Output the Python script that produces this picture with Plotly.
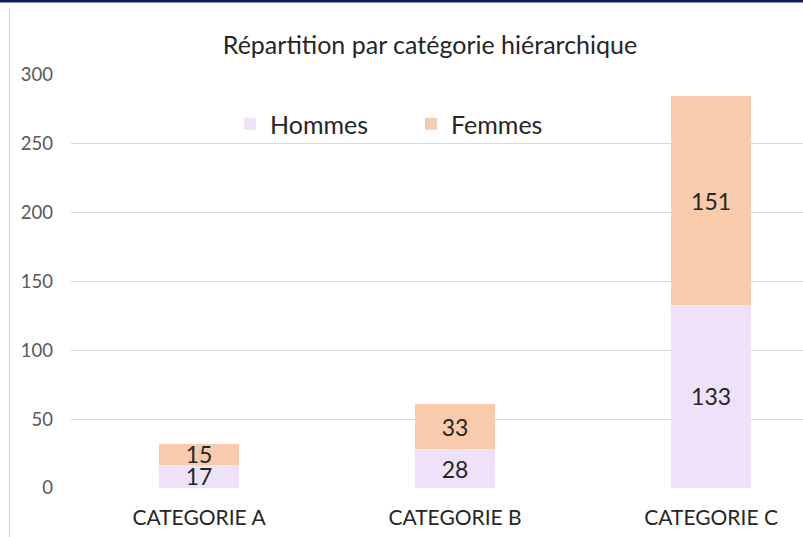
import plotly.graph_objects as go

categories = ["CATEGORIE A", "CATEGORIE B", "CATEGORIE C"]
hommes = [17, 28, 133]
femmes = [15, 33, 151]
y_ticks = [0, 50, 100, 150, 200, 250, 300]
title_text = "Répartition par catégorie hiérarchique"

W, H = 803, 537
FONT = "Lato, Carlito, Calibri, sans-serif"

fig = go.Figure()
fig.add_trace(go.Bar(
    name="Hommes", x=categories, y=hommes,
    marker=dict(color="#EEE1FA", line=dict(width=0)),
    text=hommes, textposition="inside", insidetextanchor="middle",
    constraintext="none", textangle=0,
    textfont=dict(family=FONT, size=23, color="#262626"),
))
fig.add_trace(go.Bar(
    name="Femmes", x=categories, y=femmes,
    marker=dict(color="#F8CBAD", line=dict(width=0)),
    text=femmes, textposition="inside", insidetextanchor="middle",
    constraintext="none", textangle=0,
    textfont=dict(family=FONT, size=23, color="#262626"),
))

fig.update_layout(
    width=W, height=H,
    margin=dict(l=0, r=0, t=0, b=0, autoexpand=False),
    paper_bgcolor="white", plot_bgcolor="white",
    barmode="stack", bargap=0.6875,
    font=dict(family=FONT, color="#595959"),
    title=dict(text=title_text, x=430 / W, y=1 - 45 / H, xanchor="center", yanchor="middle",
               font=dict(family=FONT, size=25, color="#262626")),
    legend=dict(orientation="h", x=230 / W, y=1 - 124 / H, xanchor="left", yanchor="middle",
                font=dict(family=FONT, size=25, color="#262626"), bgcolor="rgba(0,0,0,0)",
                entrywidth=136, itemwidth=30, traceorder="normal"),
    xaxis=dict(domain=[71 / W, 1], range=[-0.5, 2.359], showgrid=False, showline=False,
               zeroline=False, ticks="", tickfont=dict(family=FONT, size=21, color="#262626"),
               ticklabelstandoff=15, automargin=False, fixedrange=True),
    yaxis=dict(domain=[49 / H, 463 / H], range=[0, 300.3], tickvals=y_ticks,
               showgrid=True, gridcolor="#D9D9D9", gridwidth=1, zeroline=False,
               showline=False, ticks="", tickfont=dict(family=FONT, size=18.5, color="#595959"),
               ticklabelstandoff=17, automargin=False, fixedrange=True),
    shapes=[
        dict(type="line", xref="paper", yref="paper", x0=0, x1=1, y0=1 - 1 / H, y1=1 - 1 / H,
             line=dict(color="#0B1F5C", width=3)),
        dict(type="line", xref="paper", yref="paper", x0=9.5 / W, x1=9.5 / W, y0=0, y1=1 - 8 / H,
             line=dict(color="#D9D9D9", width=1.5)),
    ],
)

fig.write_html(
    "out.html",
    config={"displayModeBar": False, "staticPlot": True},
    post_script="document.body.style.margin='0px';document.documentElement.style.overflow='hidden';document.body.style.overflow='hidden';",
)
